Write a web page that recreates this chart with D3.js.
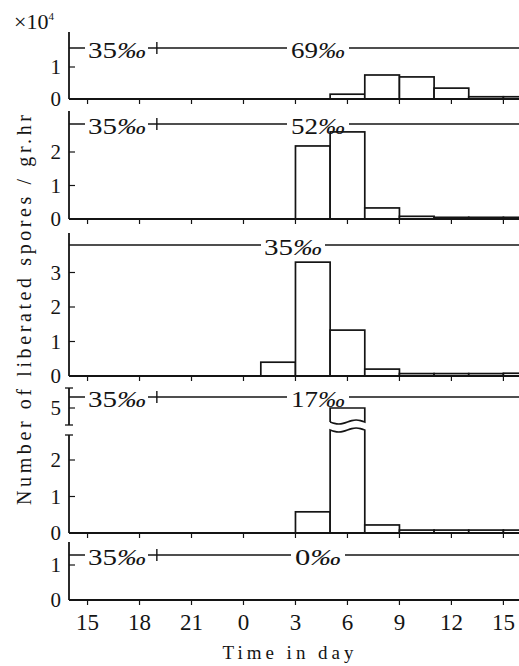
<!DOCTYPE html>
<html><head><meta charset="utf-8">
<script src="https://cdn.jsdelivr.net/npm/d3@7"></script>
<style>
body{margin:0;background:#fff}
svg{display:block}
svg text{font-family:"Liberation Serif",Tinos,"Times New Roman",serif}
</style>
</head><body><svg id="c" width="519" height="666"></svg>
<script>
// ---------------- data ----------------
const binStarts = [13,15,17,19,21,23,25,27,29,31,33,35,37,39]; // 2-hour bins (hour of day, 24+ = next day)
const binWidth = 2;
const spores69 = [0,0,0,0,0,0,0,0,0.15,0.75,0.69,0.34,0.07,0.07];
const spores52 = [0,0,0,0,0,0,0,2.18,2.6,0.33,0.08,0.05,0.05,0.05];
const spores35 = [0,0,0,0,0,0,0.4,3.3,1.33,0.2,0.07,0.07,0.07,0.08];
const spores17 = [0,0,0,0,0,0,0,0.58,5.0,0.22,0.08,0.08,0.08,0.08];
const spores0  = [0,0,0,0,0,0,0,0,0,0,0,0,0,0];
const salinityStart = "35";
const salinityValues = ["69","52","35","17","0"];
const perMille = "‰";
const changeHour = 19;
const yTicks69 = [0,1];
const yTicks52 = [0,1,2];
const yTicks35 = [0,1,2,3];
const yTicks17 = [0,1,2];
const yTicks17Upper = [5];
const yTicks0 = [0,1];
const xTickValues = [15,18,21,24,27,30,33,36,39];
const xTickLabels = ["15","18","21","0","3","6","9","12","15"];
const yTitle = "Number of liberated spores / gr.hr";
const xTitle = "Time in day";

// ---------------- layout ----------------
const svg = d3.select("#c");
const X0 = 69, X1 = 519;
const x = d3.scaleLinear().domain([13.93, 39.9]).range([X0, X1]);
const ink = "#141414";

const panels = [
  {vals: spores69, ticks: yTicks69, top: 32,  base: 99,  unit: 32,   salY: 48,  label: salinityValues[0], both: true},
  {vals: spores52, ticks: yTicks52, top: 111, base: 219, unit: 33.5, salY: 124, label: salinityValues[1], both: true},
  {vals: spores35, ticks: yTicks35, top: 233, base: 376, unit: 34.5, salY: 245, label: salinityValues[2], both: false},
  {vals: spores17, ticks: yTicks17, top: 435, base: 533, unit: 36.5, salY: 397, label: salinityValues[3], both: true, broken: true},
  {vals: spores0,  ticks: yTicks0,  top: 542, base: 600, unit: 35,   salY: 555, label: salinityValues[4], both: true}
];

svg.append("defs").append("clipPath").attr("id","clip")
  .append("rect").attr("x",X0).attr("y",0).attr("width",X1-X0).attr("height",666);

panels.forEach((p, i) => {
  const g = svg.append("g");
  const y = d3.scaleLinear().domain([0, (p.base - p.top)/p.unit]).range([p.base, p.top]);
  let yU = null;
  if (p.broken) {
    // upper segment of broken axis: 388..425, value 5 at 408
    yU = d3.scaleLinear().domain([5 - 17/p.unit, 5 + 20/p.unit]).range([425, 388]);
  }

  // bars
  const bars = g.append("g").attr("clip-path","url(#clip)");
  p.vals.forEach((v, k) => {
    if (v <= 0) return;
    const xa = x(binStarts[k]), xb = x(binStarts[k] + binWidth);
    const lowMax = y.domain()[1];
    if (p.broken && v > lowMax) {
      const yTop = yU(v), yCut = 422, amp = 2.2;
      const upPts = d3.range(0, 1.0001, 0.125).map(t => [xb - t*(xb-xa), yCut + amp*Math.sin((1-t)*2*Math.PI)]);
      const waveUp = d3.line().curve(d3.curveBasis)(upPts).replace(/^M[^CL]*/, "");
      bars.append("path")
        .attr("d", `M${xa},${yCut}L${xa},${yTop}L${xb},${yTop}L${xb},${yCut}` + waveUp)
        .attr("fill","#fff").attr("stroke",ink).attr("stroke-width",1.7);
      const yTop2 = 430;
      const loPts = d3.range(0, 1.0001, 0.125).map(t => [xa + t*(xb-xa), yTop2 + amp*Math.sin(t*2*Math.PI)]);
      bars.append("path")
        .attr("d", d3.line().curve(d3.curveBasis)(loPts) + `L${xb},${p.base}L${xa},${p.base}Z`)
        .attr("fill","#fff").attr("stroke",ink).attr("stroke-width",1.7);
    } else {
      bars.append("rect")
        .attr("x", xa).attr("y", y(v)).attr("width", xb - xa).attr("height", p.base - y(v))
        .attr("fill","#fff").attr("stroke",ink).attr("stroke-width",1.7);
    }
  });

  // baseline (x axis) with downward ticks
  g.append("line").attr("x1",X0).attr("x2",X1).attr("y1",p.base).attr("y2",p.base)
    .attr("stroke",ink).attr("stroke-width",1.8);
  xTickValues.forEach(t => {
    g.append("line").attr("x1",x(t)).attr("x2",x(t)).attr("y1",p.base).attr("y2",p.base+5)
      .attr("stroke",ink).attr("stroke-width",1.2);
  });

  // y axis
  g.append("line").attr("x1",X0).attr("x2",X0).attr("y1",p.top).attr("y2",p.base)
    .attr("stroke",ink).attr("stroke-width",1.8);
  p.ticks.forEach(t => {
    if (t > 0) g.append("line").attr("x1",X0).attr("x2",X0+6).attr("y1",y(t)).attr("y2",y(t))
      .attr("stroke",ink).attr("stroke-width",1.2);
    g.append("text").attr("x",61).attr("y",y(t)).attr("dy","0.35em")
      .attr("text-anchor","end").attr("font-size",21).attr("fill",ink).text(t);
  });
  if (p.broken) {
    g.append("line").attr("x1",X0).attr("x2",X0).attr("y1",388).attr("y2",425)
      .attr("stroke",ink).attr("stroke-width",1.8);
    [388,425,435].forEach(cy => g.append("line").attr("x1",X0-4).attr("x2",X0+4)
      .attr("y1",cy).attr("y2",cy).attr("stroke",ink).attr("stroke-width",1.3));
    yTicks17Upper.forEach(t => {
      g.append("line").attr("x1",X0).attr("x2",X0+6).attr("y1",yU(t)).attr("y2",yU(t))
        .attr("stroke",ink).attr("stroke-width",1.2);
      g.append("text").attr("x",61).attr("y",yU(t)).attr("dy","0.35em")
        .attr("text-anchor","end").attr("font-size",21).attr("fill",ink).text(t);
    });
  }

  // salinity line
  const sy = p.salY;
  const seg = (a, b) => g.append("line").attr("x1",a).attr("x2",b).attr("y1",sy).attr("y2",sy)
    .attr("stroke",ink).attr("stroke-width",1.5);
  const addLabel = (num, cx, w) => {
    const t = g.append("text").attr("x",cx).attr("y",sy+2)
      .attr("dominant-baseline","central").attr("text-anchor","middle").attr("font-size",23)
      .attr("fill",ink).attr("textLength",w).attr("lengthAdjust","spacingAndGlyphs");
    t.append("tspan").text(num);
    t.append("tspan").attr("font-style","italic").text(perMille);
  };
  if (p.both) {
    const c1 = 117, w1 = 58, c2 = 318, w2 = p.label.length > 1 ? 54 : 46;
    seg(X0, c1 - w1/2 - 3);
    addLabel(salinityStart, c1, w1);
    seg(c1 + w1/2 + 2, c2 - w2/2 - 4);
    const xc = x(changeHour);
    g.append("line").attr("x1",xc).attr("x2",xc).attr("y1",sy-6).attr("y2",sy+6)
      .attr("stroke",ink).attr("stroke-width",1.4);
    addLabel(p.label, c2, w2);
    seg(c2 + w2/2 + 4, X1);
  } else {
    const c2 = 293, w2 = 58;
    seg(X0, c2 - w2/2 - 3);
    addLabel(p.label, c2, w2);
    seg(c2 + w2/2 + 3, X1);
  }
});

// bottom x tick labels
xTickValues.forEach((t, i) => {
  svg.append("text").attr("x", x(t)).attr("y", 630).attr("text-anchor","middle")
    .attr("font-size",23).attr("fill",ink).text(xTickLabels[i]);
});

// titles
svg.append("text").attr("x",288).attr("y",659).attr("text-anchor","middle").attr("fill",ink)
  .attr("font-size",19).attr("textLength",131).attr("lengthAdjust","spacing").text(xTitle);
svg.append("text").attr("transform","translate(31,310) rotate(-90)").attr("text-anchor","middle")
  .attr("fill",ink).attr("font-size",20).attr("textLength",390).attr("lengthAdjust","spacing").text(yTitle);

// scale factor
const mult = svg.append("text").attr("x",14).attr("y",29).attr("font-size",22).attr("fill",ink);
mult.append("tspan").text("×10");
mult.append("tspan").attr("font-size",11).attr("dy",-9).text("4");
</script>
</body></html>
